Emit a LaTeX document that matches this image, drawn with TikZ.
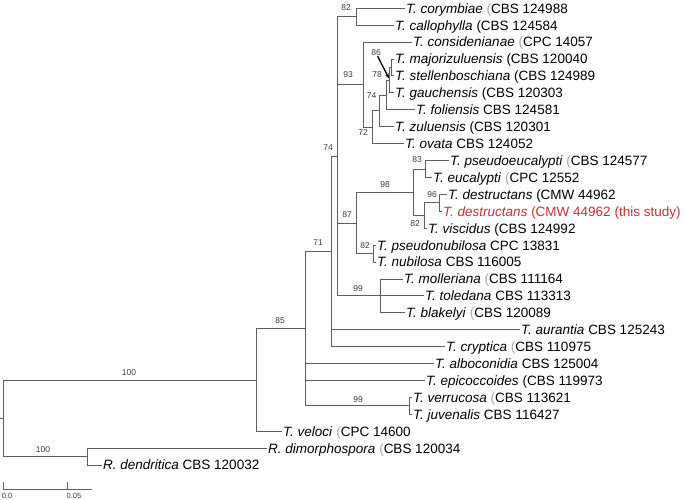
\documentclass[tikz,border=0pt]{standalone}
\usepackage{fontspec}
\setmainfont{Liberation Sans}
\usetikzlibrary{arrows.meta}
\definecolor{brgray}{RGB}{95,95,95}
\definecolor{bsgray}{RGB}{60,60,60}
\definecolor{studyred}{RGB}{205,45,45}
\newcommand{\opf}{\textcolor{black!35}{(}}

\begin{document}
\begin{tikzpicture}[x=1pt, y=-1pt,
  lf/.style={anchor=west, inner xsep=1.5pt, inner ysep=0pt, text height=9.7pt,
             text depth=0pt, font=\fontsize{13.5}{16}\selectfont},
  bs/.style={inner sep=0pt, text=bsgray, font=\fontsize{8.5}{10}\selectfont},
  sc/.style={inner sep=0pt, text=bsgray, font=\fontsize{7.5}{9}\selectfont},
  br/.style={draw=brgray, line width=1pt},
  pt/.style={-{Stealth[length=5pt,width=4pt]}, line width=1.3pt, black}
]
  \useasboundingbox (0,0) rectangle (685,500);

  \coordinate (root) at (3.5,418.5);
  \coordinate (stub) at (0,418.5);
  \coordinate (nR) at (87.5,456.5);
  \coordinate (n100) at (256.5,380);
  \coordinate (n85) at (305.5,328.5);
  \coordinate (n99b) at (409.5,405.9);
  \coordinate (n71) at (331.5,251.5);
  \coordinate (n74) at (337.5,156.5);
  \coordinate (n82a) at (356.5,16.8);
  \coordinate (n93) at (363.5,84.5);
  \coordinate (n72) at (372.5,127.5);
  \coordinate (n74b) at (379.5,110.5);
  \coordinate (nfo) at (386.5,95.5);
  \coordinate (n78) at (389.5,80.5);
  \coordinate (n86) at (391.5,67.5);
  \coordinate (n87) at (356.5,223.5);
  \coordinate (n98) at (413.5,192.5);
  \coordinate (n83) at (425.5,169.5);
  \coordinate (n82b) at (424.5,215.5);
  \coordinate (n96) at (439.5,202.9);
  \coordinate (n82c) at (373.5,253.7);
  \coordinate (n99a) at (380.5,295.9);

  \node[lf] (corymbiae) at (404.5,8.3) {\textit{T. corymbiae} \opf CBS 124988};
  \node[lf] (callophylla) at (393.5,25.2) {\textit{T. callophylla} (CBS 124584};
  \node[lf] (considenianae) at (411.5,42.1) {\textit{T. considenianae} \opf CPC 14057};
  \node[lf] (majorizuluensis) at (393.5,59.1) {\textit{T. majorizuluensis} (CBS 120040};
  \node[lf] (stellenboschiana) at (393.5,76.0) {\textit{T. stellenboschiana} (CBS 124989};
  \node[lf] (gauchensis) at (393.5,92.9) {\textit{T. gauchensis} (CBS 120303};
  \node[lf] (foliensis) at (414.5,109.8) {\textit{T. foliensis} CBS 124581};
  \node[lf] (zuluensis) at (393.5,126.7) {\textit{T. zuluensis} (CBS 120301};
  \node[lf] (ovata) at (403.5,143.7) {\textit{T. ovata} CBS 124052};
  \node[lf] (pseudoeucalypti) at (448.5,160.6) {\textit{T. pseudoeucalypti} \opf CBS 124577};
  \node[lf] (eucalypti) at (431.5,177.5) {\textit{T. eucalypti} \opf CPC 12552};
  \node[lf] (destructans) at (446.5,194.4) {\textit{T. destructans} (CMW 44962};
  \node[lf, text=studyred] (thisstudy) at (441.5,211.3) {\textit{T. destructans} (CMW 44962 (this study)};
  \node[lf] (viscidus) at (426.5,228.3) {\textit{T. viscidus} (CBS 124992};
  \node[lf] (pseudonubilosa) at (375.5,245.2) {\textit{T. pseudonubilosa} CPC 13831};
  \node[lf] (nubilosa) at (375.5,262.1) {\textit{T. nubilosa} CBS 116005};
  \node[lf] (molleriana) at (402.5,279.0) {\textit{T. molleriana} \opf CBS 111164};
  \node[lf] (toledana) at (423.5,295.9) {\textit{T. toledana} CBS 113313};
  \node[lf] (blakelyi) at (404.5,312.9) {\textit{T. blakelyi} \opf CBS 120089};
  \node[lf] (aurantia) at (519.5,329.8) {\textit{T. aurantia} CBS 125243};
  \node[lf] (cryptica) at (444.5,346.7) {\textit{T. cryptica} \opf CBS 110975};
  \node[lf] (alboconidia) at (433.5,363.6) {\textit{T. alboconidia} CBS 125004};
  \node[lf] (epicoccoides) at (424.5,380.5) {\textit{T. epicoccoides} (CBS 119973};
  \node[lf] (verrucosa) at (411.5,397.5) {\textit{T. verrucosa} \opf CBS 113621};
  \node[lf] (juvenalis) at (411.5,414.4) {\textit{T. juvenalis} CBS 116427};
  \node[lf] (veloci) at (281.5,431.3) {\textit{T. veloci} \opf CPC 14600};
  \node[lf] (dimorphospora) at (266.5,448.2) {\textit{R. dimorphospora} \opf CBS 120034};
  \node[lf] (dendritica) at (101.5,465.1) {\textit{R. dendritica} CBS 120032};

  \draw[br] (stub) -- (root);
  \foreach \p/\c in {root/n100, root/nR, n100/n85, n85/n71, n85/n99b, n71/n74,
                     n74/n82a, n74/n93, n74/n87, n74/n99a, n93/n72, n72/n74b,
                     n74b/nfo, nfo/n78, n78/n86, n87/n98, n87/n82c, n98/n83,
                     n98/n82b, n82b/n96}
    \draw[br] (\p) |- (\c);
  \foreach \p/\c in {n82a/corymbiae, n82a/callophylla, n93/considenianae,
                     n86/majorizuluensis, n86/stellenboschiana, n78/gauchensis,
                     nfo/foliensis, n74b/zuluensis, n72/ovata, n83/pseudoeucalypti,
                     n83/eucalypti, n96/destructans, n96/thisstudy, n82b/viscidus,
                     n82c/pseudonubilosa, n82c/nubilosa, n99a/molleriana,
                     n99a/toledana, n99a/blakelyi, n71/aurantia, n71/cryptica,
                     n85/alboconidia, n85/epicoccoides, n99b/verrucosa,
                     n99b/juvenalis, n100/veloci, nR/dimorphospora, nR/dendritica}
    \draw[br] (\p) |- (\c.west);

  \node[bs] (b82a) at (346,8) {82};
  \node[bs] (b93) at (348,75) {93};
  \node[bs] (b86) at (376,53) {86};
  \node[bs] (b78) at (377,75) {78};
  \node[bs] (b74b) at (371.7,96) {74};
  \node[bs] (b72) at (363,133) {72};
  \node[bs] (b74) at (328,148) {74};
  \node[bs] (b83) at (417,160) {83};
  \node[bs] (b98) at (385,185) {98};
  \node[bs] (b96) at (432,195) {96};
  \node[bs] (b87) at (347,215) {87};
  \node[bs] (b82b) at (415,223.5) {82};
  \node[bs] (b82c) at (365,246) {82};
  \node[bs] (b99a) at (358,289) {99};
  \node[bs] (b71) at (318,243) {71};
  \node[bs] (b85) at (280,321) {85};
  \node[bs] (b99b) at (358,400) {99};
  \node[bs] (b100) at (129,373) {100};
  \node[bs] (bR) at (43,450) {100};

  \coordinate (a86) at (389,78.5);
  \draw[pt] (b86) -- (a86);

  \coordinate (s0) at (3.5,489.5);
  \coordinate (s1) at (92,489.5);
  \coordinate (t0) at (3.5,482);
  \coordinate (t1) at (67.5,482);
  \coordinate (t1b) at (67.5,489.5);
  \draw[br, line width=0.9pt] (t0) -- (s0) -- (s1);
  \draw[br, line width=0.9pt] (t1) -- (t1b);
  \node[sc] (sl0) at (7,495.5) {0.0};
  \node[sc] (sl1) at (74,495.5) {0.05};
\end{tikzpicture}
\end{document}
